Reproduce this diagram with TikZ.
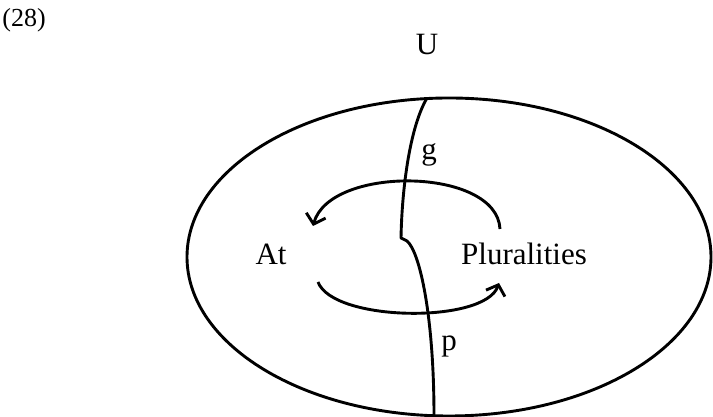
\documentclass[tikz,border=0pt]{standalone}
\usepackage{fontspec}
\setmainfont{Liberation Serif}
\usepackage{tikz}
\usetikzlibrary{arrows.meta}
\tikzset{
  outline/.style  = {draw=black, line width=1.45pt},
  cut/.style      = {draw=black, line width=1.45pt, line join=round},
  turn/.style     = {draw=black, line width=1.45pt, -{Straight Barb[length=4.5pt,width=10pt,line width=1.45pt]}},
  lbl/.style      = {font=\fontsize{15.5}{18}\selectfont, inner sep=0pt},
  num/.style      = {font=\fontsize{13}{16}\selectfont, inner sep=0pt},
}

\begin{document}
\begin{tikzpicture}[x=0.5pt,y=0.5pt]
  \useasboundingbox (0,0) rectangle (713,417);

  % example number and universe
  \node[num] (ex) at (24,397) {(28)};
  \node[lbl] (U) at (427,372) {U};
  \draw[outline] (449,160) ellipse [x radius=262, y radius=159];

  % the two domains
  \node[lbl] (At) at (271,163) {At};
  \node[lbl] (Plur) at (524,163) {Pluralities};

  % dividing line
  \coordinate (top) at (427,319);
  \coordinate (kinkA) at (401,179);
  \coordinate (kinkB) at (407,176);
  \coordinate (bot) at (434,1);
  \draw[cut] (top) .. controls (410,290) and (402,230) .. (kinkA)
    -- (kinkB) .. controls (420,165) and (434,100) .. (bot);
  \node[lbl] (g) at (429,262) {g};
  \node[lbl] (p) at (449,70) {p};

  % maps
  \coordinate (gfrom) at (500,188);
  \coordinate (gto) at (313,191);
  \coordinate (pfrom) at (318,135);
  \coordinate (pto) at (499,134);
  \draw[turn] (gfrom) .. controls (497,250) and (330,252) .. (gto);
  \draw[turn] (pfrom) .. controls (333,95) and (485,93) .. (pto);
\end{tikzpicture}
\end{document}
